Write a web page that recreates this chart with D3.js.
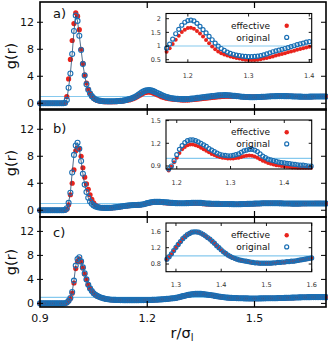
<!DOCTYPE html>
<html lang="en">
<head>
<meta charset="UTF-8">
<title>g(r) panels</title>
<script src="https://cdn.jsdelivr.net/npm/d3@7"></script>
<style>
  body { margin: 0; background: #fff; }
  text { font-family: "DejaVu Sans", sans-serif; }
</style>
</head>
<body>
<script>
// r grid: 0.900 .. 1.700, step 0.005 (161 samples)
const rGrid = d3.range(161).map(i => +(0.9 + i * 0.005).toFixed(3));

// panel a) -- rows of 10 values, each row covers 0.05 in r
const gA_eff = [
  0,0,0,0,0,0,0,0,0,0,
  0,0,0,0,0.1,1.0,3.6,6.5,9.3,11.8,
  13.4,12.9,10.9,8.0,5.9,4.2,3.0,2.1,1.5,1.05,
  0.75,0.55,0.42,0.34,0.29,0.26,0.24,0.23,0.23,0.23,
  0.23,0.23,0.24,0.25,0.27,0.29,0.32,0.36,0.41,0.47,
  0.5,0.58,0.68,0.79,0.92,1.07,1.23,1.38,1.51,1.6,
  1.66,1.67,1.63,1.55,1.46,1.35,1.22,1.1,0.98,0.88,
  0.8,0.74,0.69,0.65,0.62,0.59,0.56,0.54,0.52,0.5,
  0.49,0.49,0.49,0.5,0.52,0.54,0.56,0.59,0.62,0.65,
  0.68,0.71,0.74,0.77,0.8,0.83,0.86,0.89,0.92,0.95,
  0.97,0.99,1.01,1.03,1.04,1.05,1.05,1.05,1.04,1.03,
  1.02,1.0,0.99,0.97,0.96,0.95,0.94,0.93,0.93,0.93,
  0.93,0.93,0.94,0.95,0.96,0.97,0.98,0.99,1.0,1.01,
  1.02,1.03,1.04,1.05,1.06,1.07,1.07,1.07,1.06,1.05,
  1.04,1.03,1.02,1.01,1.0,0.99,0.98,0.98,0.97,0.97,
  0.97,0.98,0.98,0.99,0.99,1.0,1.0,1.01,1.01,1.01,
  1.01
];
const gA_orig = [
  0,0,0,0,0,0,0,0,0,0,
  0,0,0,0,0.05,0.5,2.3,4.4,7.3,10.7,
  13.0,12.2,10.0,7.9,5.8,4.1,2.8,2.0,1.45,1.05,
  0.78,0.6,0.48,0.4,0.35,0.32,0.3,0.29,0.28,0.28,
  0.28,0.29,0.3,0.31,0.33,0.35,0.38,0.42,0.47,0.54,
  0.62,0.7,0.8,0.92,1.07,1.25,1.45,1.61,1.76,1.87,
  1.93,1.95,1.92,1.83,1.72,1.6,1.48,1.35,1.23,1.11,
  1.0,0.91,0.84,0.78,0.73,0.7,0.67,0.65,0.63,0.62,
  0.61,0.61,0.62,0.63,0.65,0.68,0.71,0.75,0.79,0.82,
  0.85,0.88,0.91,0.94,0.98,1.01,1.05,1.08,1.11,1.14,
  1.16,1.18,1.19,1.2,1.2,1.19,1.17,1.15,1.12,1.09,
  1.06,1.03,1.0,0.97,0.95,0.93,0.92,0.91,0.9,0.9,
  0.9,0.91,0.92,0.93,0.94,0.96,0.97,0.99,1.0,1.02,
  1.03,1.04,1.05,1.06,1.06,1.06,1.06,1.05,1.05,1.04,
  1.03,1.02,1.01,1.0,0.99,0.98,0.98,0.97,0.97,0.97,
  0.97,0.98,0.98,0.99,0.99,1.0,1.0,1.01,1.01,1.01,
  1.01
];

// panel b)
const gB_eff = [
  0,0,0,0,0,0,0,0,0,0,
  0,0,0,0,0.02,0.15,0.8,2.3,4.0,6.0,
  8.8,9.2,9.1,8.0,6.3,4.9,3.9,3.1,2.3,1.6,
  1.1,0.78,0.58,0.46,0.39,0.35,0.33,0.32,0.32,0.33,
  0.35,0.37,0.4,0.43,0.47,0.51,0.55,0.59,0.63,0.66,
  0.69,0.71,0.73,0.74,0.75,0.76,0.79,0.84,0.89,0.95,
  1.01,1.07,1.12,1.15,1.175,1.185,1.185,1.175,1.16,1.14,
  1.12,1.1,1.08,1.06,1.045,1.03,1.02,1.01,1.005,1.0,
  1.0,1.0,1.005,1.01,1.02,1.03,1.035,1.04,1.035,1.025,
  1.01,0.99,0.97,0.955,0.94,0.93,0.92,0.91,0.905,0.9,
  0.895,0.89,0.885,0.88,0.88,0.875,0.875,0.875,0.875,0.875,
  0.875,0.88,0.885,0.89,0.9,0.91,0.92,0.93,0.94,0.95,
  0.96,0.97,0.98,0.99,1.0,1.01,1.02,1.02,1.03,1.03,
  1.03,1.03,1.03,1.02,1.02,1.01,1.01,1.0,1.0,0.99,
  0.99,0.98,0.98,0.98,0.98,0.98,0.98,0.99,0.99,0.99,
  1.0,1.0,1.0,1.0,1.01,1.01,1.01,1.01,1.0,1.0,
  1.0
];
const gB_orig = [
  0,0,0,0,0,0,0,0,0,0,
  0,0,0,0,0.05,0.3,1.1,2.6,5.6,8.2,
  9.6,10.0,9.1,7.3,5.4,3.8,2.7,1.85,1.3,0.95,
  0.72,0.57,0.47,0.41,0.38,0.36,0.35,0.35,0.35,0.36,
  0.38,0.4,0.43,0.46,0.5,0.54,0.58,0.62,0.66,0.69,
  0.72,0.74,0.76,0.77,0.78,0.79,0.82,0.86,0.9,0.97,
  1.05,1.12,1.17,1.21,1.235,1.245,1.245,1.235,1.22,1.2,
  1.18,1.16,1.13,1.11,1.09,1.07,1.055,1.045,1.04,1.035,
  1.035,1.04,1.05,1.06,1.08,1.1,1.11,1.12,1.12,1.11,
  1.09,1.06,1.03,1.01,0.99,0.98,0.97,0.96,0.95,0.945,
  0.94,0.935,0.93,0.925,0.92,0.915,0.91,0.91,0.905,0.9,
  0.9,0.9,0.905,0.91,0.92,0.93,0.94,0.95,0.96,0.97,
  0.98,0.99,1.0,1.01,1.02,1.03,1.03,1.04,1.04,1.04,
  1.04,1.04,1.03,1.03,1.02,1.02,1.01,1.0,1.0,0.99,
  0.99,0.98,0.98,0.98,0.98,0.98,0.99,0.99,0.99,1.0,
  1.0,1.0,1.0,1.01,1.01,1.01,1.01,1.01,1.0,1.0,
  1.0
];

// panel c)
const gC_eff = [
  0,0,0,0,0,0,0,0,0,0,
  0,0,0,0,0.02,0.12,0.4,0.8,1.7,3.4,
  5.8,7.0,7.4,6.9,5.9,4.9,3.95,3.1,2.5,2.05,
  1.7,1.45,1.25,1.1,0.98,0.88,0.8,0.73,0.68,0.64,
  0.61,0.59,0.57,0.56,0.55,0.54,0.54,0.53,0.53,0.53,
  0.53,0.53,0.53,0.53,0.53,0.53,0.54,0.54,0.54,0.55,
  0.55,0.56,0.56,0.57,0.59,0.6,0.62,0.64,0.66,0.68,
  0.71,0.74,0.77,0.8,0.83,0.86,0.91,0.97,1.04,1.12,
  1.2,1.27,1.34,1.41,1.46,1.51,1.54,1.57,1.58,1.58,
  1.57,1.55,1.52,1.48,1.44,1.4,1.35,1.3,1.24,1.19,
  1.14,1.09,1.05,1.01,0.98,0.95,0.93,0.91,0.89,0.88,
  0.87,0.86,0.85,0.84,0.83,0.82,0.82,0.81,0.81,0.81,
  0.81,0.81,0.81,0.82,0.82,0.83,0.83,0.84,0.84,0.85,
  0.85,0.86,0.86,0.87,0.88,0.89,0.9,0.91,0.92,0.93,
  0.94,0.95,0.96,0.97,0.98,0.99,1.0,1.01,1.02,1.02,
  1.03,1.03,1.04,1.04,1.04,1.04,1.04,1.04,1.04,1.03,
  1.03
];
const gC_orig = [
  0,0,0,0,0,0,0,0,0,0,
  0,0,0,0,0.02,0.15,0.45,0.9,1.9,3.8,
  6.3,7.4,7.7,7.0,6.0,5.0,4.0,3.1,2.5,2.05,
  1.7,1.45,1.25,1.1,0.98,0.88,0.8,0.74,0.69,0.65,
  0.62,0.6,0.58,0.57,0.56,0.55,0.55,0.54,0.54,0.54,
  0.54,0.54,0.54,0.54,0.54,0.54,0.55,0.55,0.55,0.56,
  0.56,0.57,0.57,0.58,0.6,0.61,0.63,0.65,0.67,0.69,
  0.72,0.75,0.78,0.81,0.84,0.87,0.92,0.98,1.05,1.13,
  1.21,1.28,1.35,1.42,1.47,1.52,1.55,1.58,1.59,1.59,
  1.58,1.56,1.53,1.49,1.45,1.41,1.36,1.31,1.25,1.2,
  1.15,1.1,1.06,1.02,0.99,0.96,0.94,0.92,0.9,0.89,
  0.88,0.87,0.86,0.85,0.84,0.83,0.83,0.82,0.82,0.82,
  0.82,0.82,0.82,0.83,0.83,0.84,0.84,0.85,0.85,0.86,
  0.86,0.87,0.87,0.88,0.89,0.9,0.91,0.92,0.93,0.94,
  0.95,0.96,0.97,0.98,0.99,1.0,1.01,1.02,1.03,1.03,
  1.04,1.04,1.05,1.05,1.05,1.05,1.05,1.05,1.05,1.04,
  1.04
];

// tick values
const mainXTicks = [0.9, 1.2, 1.5];
const mainYTicks = [0, 4, 8, 12];
const insetXTicks = [[1.2, 1.3, 1.4], [1.2, 1.3, 1.4], [1.3, 1.4, 1.5, 1.6]];
const insetYTicks = [[0.5, 1, 1.5, 2], [0.9, 1.2, 1.5], [0.8, 1.2, 1.6]];
const panelLabels = ["a)", "b)", "c)"];
const legendNames = ["effective", "original"];

const RED = "#e8231c", BLUE = "#1a6fb4", REF = "#86c9ee";

const W = 328, H = 345;
const svg = d3.select("body").append("svg")
  .attr("width", W).attr("height", H)
  .attr("viewBox", [0, 0, W, H]);

const x = d3.scaleLinear().domain([0.9, 1.7]).range([40, 326]);

// layout of the three panels and their insets
const panels = [
  { eff: gA_eff, orig: gA_orig, y: d3.scaleLinear().domain([-1, 15]).range([110, 2]),
    inset: { x: [1.164, 1.404], y: [0.405, 2.19], left: 166, right: 311.7, top: 13.5, bottom: 62.3 } },
  { eff: gB_eff, orig: gB_orig, y: d3.scaleLinear().domain([-1, 15]).range([217, 109]),
    inset: { x: [1.18, 1.451], y: [0.86, 1.508], left: 166, right: 311.7, top: 120, bottom: 169 } },
  { eff: gC_eff, orig: gC_orig, y: d3.scaleLinear().domain([-0.6, 14.4]).range([307, 217]),
    inset: { x: [1.278, 1.6], y: [0.612, 1.805], left: 166, right: 311.7, top: 223, bottom: 271.7 } }
];

panels.forEach((p, i) => {
  const g = svg.append("g");
  const y = p.y;
  const [yb, yt] = y.range();
  const pts = k => rGrid.map((r, j) => [r, p[k][j]]);

  // g = 1 reference
  g.append("line")
    .attr("x1", x.range()[0]).attr("x2", x.range()[1])
    .attr("y1", y(1)).attr("y2", y(1))
    .attr("stroke", REF).attr("stroke-width", 1.2);

  g.append("g").selectAll("circle").data(pts("eff")).join("circle")
    .attr("cx", d => x(d[0])).attr("cy", d => y(d[1])).attr("r", 2.6)
    .attr("fill", RED);

  g.append("path")
    .attr("d", d3.line().x(d => x(d[0])).y(d => y(d[1]))(pts("orig")))
    .attr("fill", "none").attr("stroke", "#23486e").attr("stroke-width", 0.8);

  g.append("g").selectAll("circle").data(pts("orig")).join("circle")
    .attr("cx", d => x(d[0])).attr("cy", d => y(d[1])).attr("r", 2.5)
    .attr("fill", "none").attr("stroke", BLUE).attr("stroke-width", 1.1);

  // frame + inward ticks
  g.append("rect")
    .attr("x", x.range()[0]).attr("y", yt)
    .attr("width", x.range()[1] - x.range()[0]).attr("height", yb - yt)
    .attr("fill", "none").attr("stroke", "#000").attr("stroke-width", 1.6);

  mainXTicks.slice(1).forEach(t => {
    g.append("line").attr("x1", x(t)).attr("x2", x(t)).attr("y1", yb).attr("y2", yb - 6)
      .attr("stroke", "#000").attr("stroke-width", 1.2);
    g.append("line").attr("x1", x(t)).attr("x2", x(t)).attr("y1", yt).attr("y2", yt + 6)
      .attr("stroke", "#000").attr("stroke-width", 1.2);
  });
  mainYTicks.forEach(t => {
    g.append("line").attr("x1", x.range()[0] - 3).attr("x2", x.range()[0] + 3)
      .attr("y1", y(t)).attr("y2", y(t)).attr("stroke", "#000").attr("stroke-width", 1);
    g.append("line").attr("x1", x.range()[1]).attr("x2", x.range()[1] - 5)
      .attr("y1", y(t)).attr("y2", y(t)).attr("stroke", "#000").attr("stroke-width", 1);
    g.append("text").attr("x", 34).attr("y", y(t)).attr("dy", "0.36em")
      .attr("text-anchor", "end").attr("font-size", 11).attr("fill", "#111").text(t);
  });

  g.append("text")
    .attr("transform", `translate(16,${(yb + yt) / 2}) rotate(-90)`)
    .attr("text-anchor", "middle").attr("font-size", 14.5).attr("fill", "#111")
    .text("g(r)");

  g.append("text").attr("x", 53).attr("y", yt + [15.5, 23.5, 20][i])
    .attr("font-size", 13).attr("fill", "#111").text(panelLabels[i]);

  // inset
  const s = p.inset;
  const ix = d3.scaleLinear().domain(s.x).range([s.left, s.right]);
  const iy = d3.scaleLinear().domain(s.y).range([s.bottom, s.top]);
  const ig = svg.append("g");
  ig.append("rect").attr("x", s.left).attr("y", s.top)
    .attr("width", s.right - s.left).attr("height", s.bottom - s.top)
    .attr("fill", "#fff");
  ig.append("line").attr("x1", s.left).attr("x2", s.right)
    .attr("y1", iy(1)).attr("y2", iy(1)).attr("stroke", REF).attr("stroke-width", 1.1);

  const inDom = d => d[0] >= s.x[0] - 0.001 && d[0] <= s.x[1] + 0.001 &&
                     d[1] >= s.y[0] - 0.02 && d[1] <= s.y[1];
  ig.append("g").selectAll("circle").data(pts("eff").filter(inDom)).join("circle")
    .attr("cx", d => ix(d[0])).attr("cy", d => iy(d[1])).attr("r", 2)
    .attr("fill", RED);
  ig.append("g").selectAll("circle").data(pts("orig").filter(inDom)).join("circle")
    .attr("cx", d => ix(d[0])).attr("cy", d => iy(d[1])).attr("r", 2)
    .attr("fill", "none").attr("stroke", BLUE).attr("stroke-width", 1.2);

  ig.append("rect").attr("x", s.left).attr("y", s.top)
    .attr("width", s.right - s.left).attr("height", s.bottom - s.top)
    .attr("fill", "none").attr("stroke", "#000").attr("stroke-width", 1.1);

  insetXTicks[i].forEach(t => {
    ig.append("line").attr("x1", ix(t)).attr("x2", ix(t)).attr("y1", s.bottom).attr("y2", s.bottom - 3)
      .attr("stroke", "#000").attr("stroke-width", 0.9);
    ig.append("line").attr("x1", ix(t)).attr("x2", ix(t)).attr("y1", s.top).attr("y2", s.top + 3)
      .attr("stroke", "#000").attr("stroke-width", 0.9);
    ig.append("text").attr("x", ix(t)).attr("y", s.bottom + 15.5)
      .attr("text-anchor", "middle").attr("font-size", 6.5).attr("fill", "#333").text(t);
  });
  insetYTicks[i].forEach(t => {
    ig.append("line").attr("x1", s.left).attr("x2", s.left + 3).attr("y1", iy(t)).attr("y2", iy(t))
      .attr("stroke", "#000").attr("stroke-width", 0.9);
    ig.append("line").attr("x1", s.right).attr("x2", s.right - 3).attr("y1", iy(t)).attr("y2", iy(t))
      .attr("stroke", "#000").attr("stroke-width", 0.9);
    ig.append("text").attr("x", s.left - 5).attr("y", iy(t)).attr("dy", "0.35em")
      .attr("text-anchor", "end").attr("font-size", 6.5).attr("fill", "#333").text(t);
  });

  // legend
  legendNames.forEach((name, k) => {
    const ly = s.top + 12.2 + k * 11.7;
    ig.append("text").attr("x", 270).attr("y", ly).attr("dy", "0.35em")
      .attr("text-anchor", "end").attr("font-size", 9).attr("fill", "#111").text(name);
    if (k === 0) {
      ig.append("circle").attr("cx", 286.7).attr("cy", ly).attr("r", 2.2).attr("fill", RED);
    } else {
      ig.append("circle").attr("cx", 286.7).attr("cy", ly).attr("r", 2)
        .attr("fill", "none").attr("stroke", BLUE).attr("stroke-width", 1.2);
    }
  });
});

// bottom x axis labels
const yc = panels[2].y;
mainXTicks.forEach(t => {
  svg.append("text").attr("x", x(t)).attr("y", yc.range()[0] + 14.5)
    .attr("text-anchor", "middle").attr("font-size", 11).attr("fill", "#111").text(t);
});

const xl = svg.append("text").attr("x", 182).attr("y", 338)
  .attr("text-anchor", "middle").attr("font-size", 14.5).attr("fill", "#111");
xl.append("tspan").text("r/σ");
xl.append("tspan").attr("font-size", 10).attr("dy", 3).text("l");
</script>
</body>
</html>
